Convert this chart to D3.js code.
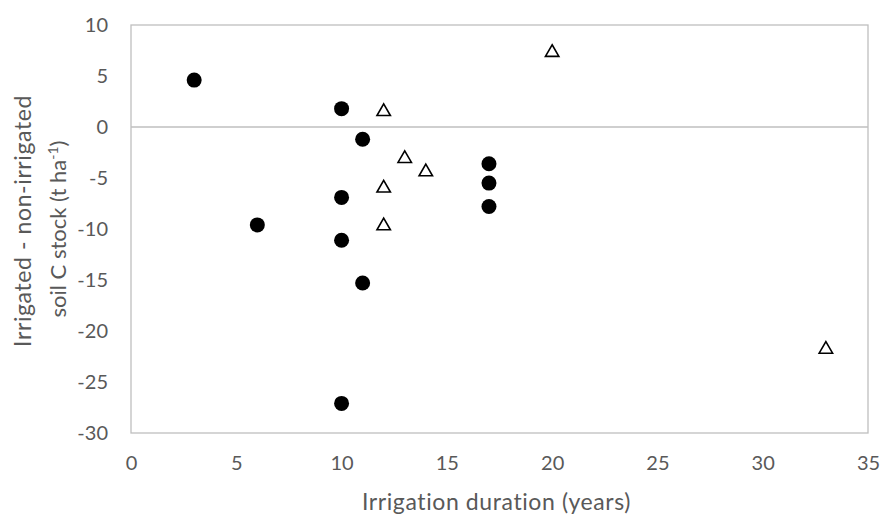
<!DOCTYPE html>
<html>
<head>
<meta charset="utf-8">
<script src="https://cdn.jsdelivr.net/npm/d3@7"></script>
<style>
  body { margin: 0; background: #fff; }
  text { font-family: Lato, "Open Sans", sans-serif; fill: #595959; }
</style>
</head>
<body>
<div id="chart"></div>
<script>
// data
var circleX = [3, 10, 11, 17, 17, 17, 10, 6, 10, 11, 10];
var circleY = [4.6, 1.8, -1.2, -3.6, -5.5, -7.8, -6.9, -9.6, -11.1, -15.3, -27.1];
var triX = [12, 13, 14, 12, 12, 20, 33];
var triY = [1.6, -3.0, -4.3, -5.9, -9.6, 7.4, -21.7];
var xTicks = [0, 5, 10, 15, 20, 25, 30, 35];
var yTicks = [10, 5, 0, -5, -10, -15, -20, -25, -30];

// set the dimensions
var W = 882, H = 515;
var margin = {top: 25, right: 14, bottom: 82, left: 131},
    width = W - margin.left - margin.right,
    height = H - margin.top - margin.bottom;

var svg = d3.select("#chart")
  .append("svg")
    .attr("width", W)
    .attr("height", H)
  .append("g")
    .attr("transform", "translate(" + margin.left + "," + margin.top + ")");

var x = d3.scaleLinear().domain([0, 35]).range([0, width]);
var y = d3.scaleLinear().domain([-30, 10]).range([height, 0]);

// plain hyphen for negatives, like the original
var fmt = function(d) { return String(d); };

// plot area border
svg.append("rect")
  .attr("x", 0).attr("y", 0)
  .attr("width", width).attr("height", height)
  .attr("fill", "none")
  .attr("stroke", "#bfbfbf")
  .attr("stroke-width", 1.3);

// horizontal axis line at zero
svg.append("line")
  .attr("x1", 0).attr("x2", width)
  .attr("y1", y(0)).attr("y2", y(0))
  .attr("stroke", "#bfbfbf")
  .attr("stroke-width", 1.3);

// tick labels (axis lines hidden, Excel style)
var yAxis = svg.append("g")
  .call(d3.axisLeft(y).tickValues(yTicks).tickFormat(fmt).tickSize(0).tickPadding(23));
yAxis.select(".domain").remove();
yAxis.selectAll("text")
  .style("font-size", "20px")
  .attr("fill", "#595959");

var xAxis = svg.append("g")
  .attr("transform", "translate(0," + height + ")")
  .call(d3.axisBottom(x).tickValues(xTicks).tickFormat(fmt).tickSize(0).tickPadding(23));
xAxis.select(".domain").remove();
xAxis.selectAll("text")
  .style("font-size", "20px")
  .attr("fill", "#595959");

// circles
svg.append("g")
  .selectAll("circle")
  .data(circleX)
  .enter()
  .append("circle")
    .attr("cx", function(d) { return x(d); })
    .attr("cy", function(d, i) { return y(circleY[i]); })
    .attr("r", 7.5)
    .attr("fill", "#000");

// open triangles
var tri = d3.symbol().type(d3.symbolTriangle).size(78);
svg.append("g")
  .selectAll("path")
  .data(triX)
  .enter()
  .append("path")
    .attr("d", tri)
    .attr("transform", function(d, i) { return "translate(" + x(d) + "," + (y(triY[i]) + 1) + ")"; })
    .attr("fill", "#fff")
    .attr("stroke", "#000")
    .attr("stroke-width", 1.6);

// x axis title
svg.append("text")
  .attr("text-anchor", "middle")
  .attr("x", x(17.5) - 3)
  .attr("y", height + 77)
  .style("font-size", "23px")
  .style("letter-spacing", "0.6px")
  .text("Irrigation duration (years)");

// y axis title, two lines
var yt = svg.append("text")
  .attr("text-anchor", "middle")
  .attr("transform", "rotate(-90)");
yt.append("tspan")
  .attr("x", -height / 2 + 8)
  .attr("y", -margin.left + 31)
  .style("font-size", "23px")
  .style("letter-spacing", "0.6px")
  .text("Irrigated - non-irrigated");
var t2 = yt.append("tspan")
  .attr("x", -height / 2)
  .attr("y", -margin.left + 66)
  .style("font-size", "22px");
t2.append("tspan").text("soil C stock (t ha");
t2.append("tspan").attr("dy", -8).style("font-size", "14px").text("-1");
t2.append("tspan").attr("dy", 8).text(")");
</script>
</body>
</html>
